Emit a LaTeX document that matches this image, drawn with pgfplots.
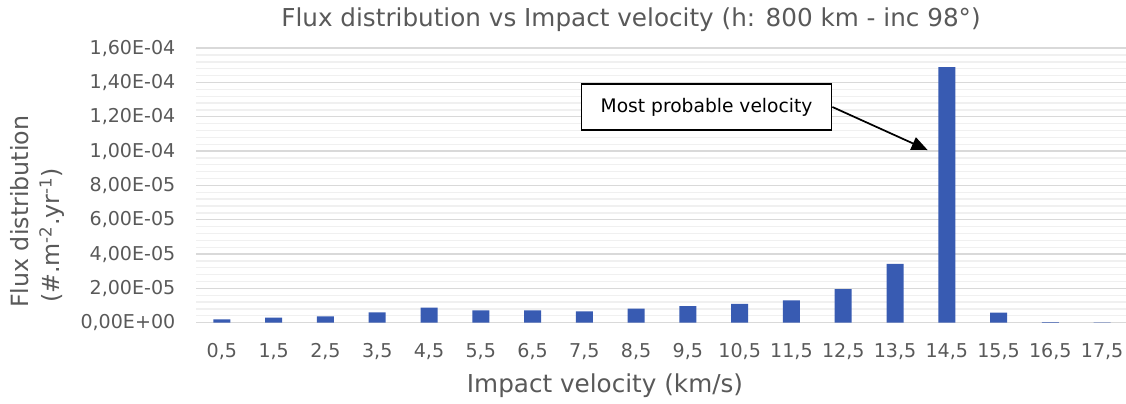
\documentclass[border=0pt]{standalone}
\usepackage{fontspec}
\setmainfont{DejaVu Sans}
\usepackage{pgfplots}
\pgfplotsset{compat=1.18}
\usetikzlibrary{arrows.meta}

\definecolor{barblue}{RGB}{56,91,178}
\definecolor{txtgray}{RGB}{89,89,89}
\definecolor{majgrid}{RGB}{217,217,217}
\definecolor{mingrid}{RGB}{240,240,240}

\begin{document}
\begin{tikzpicture}
\begin{axis}[
    scale only axis,
    width=699pt, height=205.9pt,
    xmin=-0.5, xmax=17.5,
    ymin=0, ymax=1.6e-4,
    ybar, bar width=12.75pt,
    xtick={0,...,17},
    xticklabels={{0,5},{1,5},{2,5},{3,5},{4,5},{5,5},{6,5},{7,5},{8,5},{9,5},{10,5},{11,5},{12,5},{13,5},{14,5},{15,5},{16,5},{17,5}},
    ytick={0,2e-5,4e-5,6e-5,8e-5,1e-4,1.2e-4,1.4e-4,1.6e-4},
    yticklabels={{0,00E+00},{2,00E-05},{4,00E-05},{6,00E-05},{8,00E-05},{1,00E-04},{1,20E-04},{1,40E-04},{1,60E-04}},
    minor y tick num=4,
    ymajorgrids, yminorgrids,
    major grid style={majgrid, line width=1pt},
    minor grid style={mingrid, line width=1pt},
    axis y line*=left,
    y axis line style={draw=none},
    axis x line*=bottom,
    x axis line style={majgrid, line width=1pt, -},
    major tick length=0pt, minor tick length=0pt,
    ticklabel style={font=\fontsize{14.3}{16}\selectfont, text=txtgray},
    xticklabel style={yshift=-12pt},
    yticklabel style={xshift=-12pt},
    scaled y ticks=false,
    clip=false,
]
\addplot[fill=barblue, draw=none] coordinates {
(0,1.9e-6) (1,2.9e-6) (2,3.7e-6) (3,6.0e-6) (4,8.8e-6) (5,7.2e-6)
(6,7.2e-6) (7,6.6e-6) (8,8.2e-6) (9,9.7e-6) (10,1.1e-5) (11,1.3e-5)
(12,1.96e-5) (13,3.42e-5) (14,1.49e-4) (15,5.8e-6) (16,3e-7) (17,1e-7)
};
\node[draw=black, line width=0.8pt, fill=white, minimum width=188pt, minimum height=34.5pt,
      font=\fontsize{14}{16}\selectfont] (box) at (axis cs:9.36,1.257e-4) {Most probable velocity};
\draw[line width=1.3pt, -{Triangle[length=12pt,width=10pt]}] (box.east) -- (axis cs:13.63,1.006e-4);
\end{axis}
\node[text=txtgray, font=\fontsize{18.5}{20}\selectfont] at (326.25pt,227.6pt) {Flux distribution vs Impact velocity (h: 800 km - inc 98°)};
\node[text=txtgray, font=\fontsize{18.5}{20}\selectfont] at (306.75pt,-46.9pt) {Impact velocity (km/s)};
\node[text=txtgray, font=\fontsize{17.8}{20}\selectfont, rotate=90, anchor=west, inner sep=0pt] at (-132pt,10.9pt) {Flux distribution};
\node[text=txtgray, font=\fontsize{17.8}{20}\selectfont, rotate=90, anchor=west, inner sep=0pt] at (-108pt,14.6pt) {(\#.m\textsuperscript{-2}.yr\textsuperscript{-1})};
\pgfresetboundingbox
\useasboundingbox (-147pt,-60.4pt) rectangle (697.5pt,242pt);
\end{tikzpicture}
\end{document}
